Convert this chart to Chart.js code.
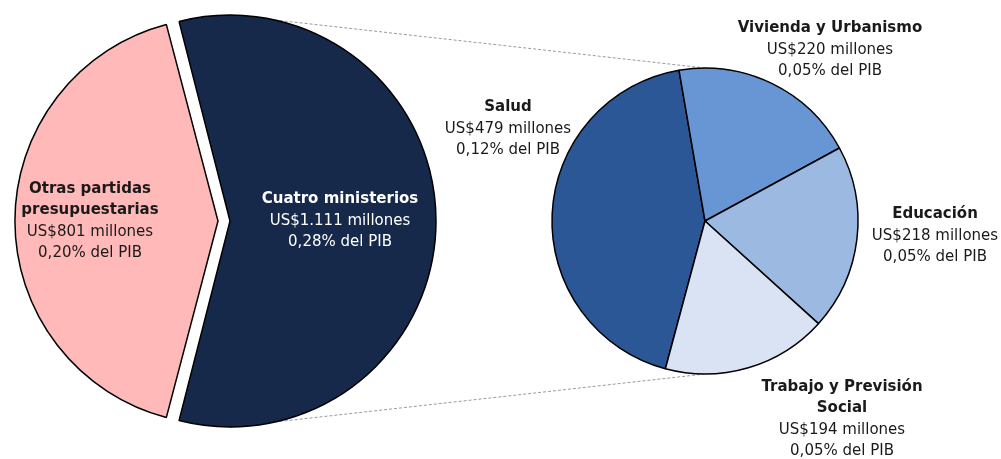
<!DOCTYPE html>
<html lang="es">
<head>
<meta charset="utf-8">
<script src="https://cdn.jsdelivr.net/npm/chart.js@4.4.1/dist/chart.umd.min.js"></script>
<style>
  html, body { margin: 0; padding: 0; background: #fff; }
  #wrap { position: relative; width: 1001px; height: 459px; }
  #wrap canvas { position: absolute; left: 0; top: 0; }
</style>
</head>
<body>
<div id="wrap">
  <canvas id="mainChart" width="1001" height="459"></canvas>
  <canvas id="detailChart" width="1001" height="459"></canvas>
</div>
<script>
// presupuesto total: cuatro ministerios vs. resto
const mainNames = [['Otras partidas', 'presupuestarias'], ['Cuatro ministerios']];
const mainValues = [801, 1111];
const mainPib = ['0,20', '0,28'];

// desglose de los cuatro ministerios
const detailNames = [['Salud'], ['Vivienda y Urbanismo'], ['Educación'], ['Trabajo y Previsión', 'Social']];
const detailValues = [479, 220, 218, 194];
const detailPib = ['0,12', '0,05', '0,05', '0,05'];

const mainColors = ['#ffb9b9', '#16294a'];
const detailColors = ['#2b5797', '#6895d3', '#9cb9e1', '#dae3f3'];

// centro de cada bloque de texto, en px desde el centro de la porción
const mainLabelPos = [[-128, 0], [110, 0]];
const detailLabelPos = [[-197, -92], [125, -171], [230, 15], [137, 198]];

const FONT = '"DejaVu Sans", sans-serif';
const LINE_H = 21.5;

function fmtMillones(v) {
    return 'US$' + String(v).replace(/\B(?=(\d{3})+(?!\d))/g, '.') + ' millones';
}

// centro y radio reales de una porción desplazada (offset), igual que ArcElement.draw
function sliceGeom(arc) {
    const off = (arc.options.offset || 0) / 4;
    const half = (arc.startAngle + arc.endAngle) / 2;
    const circ = arc.endAngle - arc.startAngle;
    const fix = 1 - Math.sin(Math.min(Math.PI, circ));
    return {
        x: arc.x + Math.cos(half) * off,
        y: arc.y + Math.sin(half) * off,
        r: arc.outerRadius + off * fix
    };
}

function labelPlugin(names, values, pib, pos, colors) {
    return {
        id: 'sliceLabels',
        afterDatasetsDraw(chart) {
            const ctx = chart.ctx;
            const arcs = chart.getDatasetMeta(0).data;
            ctx.save();
            ctx.textAlign = 'center';
            ctx.textBaseline = 'middle';
            arcs.forEach((arc, i) => {
                const c = sliceGeom(arc);
                const lines = names[i].map(t => ({ t, bold: true }))
                    .concat([{ t: fmtMillones(values[i]) }, { t: pib[i] + '% del PIB' }]);
                const x = c.x + pos[i][0];
                let y = c.y + pos[i][1] - (lines.length - 1) * LINE_H / 2;
                ctx.fillStyle = colors[i];
                lines.forEach(l => {
                    ctx.font = (l.bold ? 'bold 15px ' : '15px ') + FONT;
                    ctx.fillText(l.t, x, y);
                    y += LINE_H;
                });
            });
            ctx.restore();
        }
    };
}

const detailChart = new Chart(document.getElementById('detailChart'), {
    type: 'pie',
    data: {
        labels: detailNames.map(n => n.join(' ')),
        datasets: [{
            data: detailValues,
            backgroundColor: detailColors,
            borderColor: '#000',
            borderWidth: 1.5
        }]
    },
    options: {
        responsive: false,
        animation: false,
        events: [],
        rotation: 195,
        radius: 153,
        layout: { padding: { left: 409, right: 0, top: 0, bottom: 17 } },
        plugins: { legend: { display: false }, tooltip: { enabled: false } }
    },
    plugins: [labelPlugin(detailNames, detailValues, detailPib, detailLabelPos,
        ['#1a1a1a', '#1a1a1a', '#1a1a1a', '#1a1a1a'])]
});

// líneas punteadas que unen "Cuatro ministerios" con el desglose
const connectors = {
    id: 'connectors',
    beforeDatasetsDraw(chart) {
        const c = sliceGeom(chart.getDatasetMeta(0).data[1]);
        const det = detailChart.getDatasetMeta(0).data[0];
        const ctx = chart.ctx;
        ctx.save();
        ctx.strokeStyle = '#9a9a9a';
        ctx.lineWidth = 1;
        ctx.setLineDash([3, 2]);
        ctx.beginPath();
        ctx.moveTo(c.x, c.y - c.r);
        ctx.lineTo(det.x, det.y - det.outerRadius);
        ctx.moveTo(c.x, c.y + c.r);
        ctx.lineTo(det.x, det.y + det.outerRadius);
        ctx.stroke();
        ctx.restore();
    }
};

const total = mainValues.reduce((a, b) => a + b, 0);

const mainChart = new Chart(document.getElementById('mainChart'), {
    type: 'pie',
    data: {
        labels: mainNames.map(n => n.join(' ')),
        datasets: [{
            data: mainValues,
            backgroundColor: mainColors,
            borderColor: '#000',
            borderWidth: 1.5,
            offset: 24
        }]
    },
    options: {
        responsive: false,
        animation: false,
        events: [],
        // "Otras partidas" centrada a la izquierda
        rotation: 270 - mainValues[0] / total * 180,
        radius: 200,
        layout: { padding: { left: 0, right: 553, top: 0, bottom: 17 } },
        plugins: { legend: { display: false }, tooltip: { enabled: false } }
    },
    plugins: [connectors, labelPlugin(mainNames, mainValues, mainPib, mainLabelPos, ['#1a1a1a', '#ffffff'])]
});
</script>
</body>
</html>
